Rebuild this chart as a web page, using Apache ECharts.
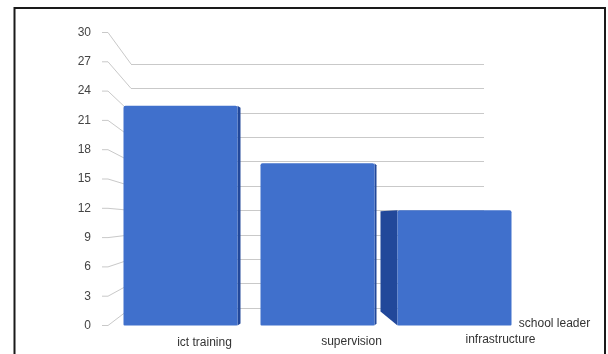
<!DOCTYPE html>
<html>
<head>
<meta charset="utf-8">
<script src="https://cdn.jsdelivr.net/npm/echarts@6/dist/echarts.min.js"></script>
<style>
  html, body { margin: 0; padding: 0; background: #ffffff; overflow: hidden; }
  /* the floor runs a little past the right edge of the window */
  #chart { width: 660px; height: 354px; }
</style>
</head>
<body>
<div id="chart"></div>
<script>
// Chart data
const categories = ['ict training', 'supervision', 'infrastructure', 'school leader'];
const values = [22.5, 16.6, 11.8, 0];
const tickValues = [0, 3, 6, 9, 12, 15, 18, 21, 24, 27, 30];

// Side faces of the bars: +n draws a strip on the right, -n a face on the left
const sideDepth = [3, 2, -17, 0];
// Category label nudges (dx, dy) to follow the tilted floor
const labelShift = [[24, 17], [34, 16], [46, 14], [-37, -2]];

const BAR_W = 114;
const FRONT = '#4070cc';
const SIDE = '#22489a';

const chart = echarts.init(document.getElementById('chart'), null, { renderer: 'canvas' });

const option = {
  backgroundColor: '#ffffff',
  animation: false,
  grid: [
    // front plane: tick labels and bars
    { left: 112, width: 548, top: 32.5, height: 293 },
    // back wall: gridlines
    { left: 131, width: 353, top: 64, height: 244 }
  ],
  xAxis: [
    {
      type: 'category', gridIndex: 0, data: categories,
      axisLine: { show: false }, axisTick: { show: false }, axisLabel: { show: false }
    },
    {
      type: 'value', gridIndex: 1, show: false, min: 0, max: 1
    }
  ],
  yAxis: [
    {
      type: 'value', gridIndex: 0, min: 0, max: 30, interval: 3,
      axisLine: { show: false }, axisTick: { show: false }, splitLine: { show: false },
      axisLabel: { margin: 21, color: '#444', fontSize: 12, fontFamily: 'Liberation Sans, Arial, sans-serif' }
    },
    {
      type: 'value', gridIndex: 1, min: 0, max: 30, interval: 3,
      axisLine: { show: false }, axisTick: { show: false }, axisLabel: { show: false },
      splitLine: { show: true, lineStyle: { color: '#c9c9c9', width: 1 } }
    }
  ],
  series: [
    {
      type: 'custom',
      xAxisIndex: 0, yAxisIndex: 0,
      z: 2,
      data: values.map((v, i) => [i, v]),
      renderItem: function (params, api) {
        const i = api.value(0);
        const v = api.value(1);
        const d = sideDepth[i];
        if (!v || !d) return null;
        const top = api.coord([i, v]);
        const base = api.coord([i, 0]);
        const edgeX = d > 0 ? top[0] + BAR_W / 2 : top[0] - BAR_W / 2;
        const rise = d > 0 ? 2 : 14;
        const pts = [
          [edgeX, top[1]],
          [edgeX + d, top[1] + (d > 0 ? 2 : 1)],
          [edgeX + d, base[1] - rise],
          [edgeX, base[1]]
        ];
        return {
          type: 'polygon',
          shape: { points: pts },
          style: { fill: SIDE }
        };
      }
    },
    {
      type: 'bar',
      xAxisIndex: 0, yAxisIndex: 0,
      z: 3,
      barWidth: BAR_W,
      data: values,
      itemStyle: { color: FRONT, borderRadius: [2, 2, 1, 1] }
    }
  ]
};

chart.setOption(option);

// Connectors from each tick label to its gridline on the back wall,
// and category labels placed along the floor edge.
const gfx = [];
const frontLeft = 112;
const backLeft = 131;
tickValues.forEach(function (v) {
  const fy = chart.convertToPixel({ yAxisIndex: 0 }, v);
  const by = chart.convertToPixel({ yAxisIndex: 1 }, v);
  gfx.push({
    type: 'polyline',
    z: 0,
    shape: { points: [[frontLeft - 10, fy], [frontLeft - 4, fy], [backLeft, by]] },
    style: { stroke: '#c9c9c9', lineWidth: 1, fill: null }
  });
});
categories.forEach(function (c, i) {
  const x = chart.convertToPixel({ xAxisIndex: 0 }, c);
  const y0 = chart.convertToPixel({ yAxisIndex: 0 }, 0);
  gfx.push({
    type: 'text',
    z: 10,
    x: x + labelShift[i][0],
    y: y0 + labelShift[i][1],
    style: {
      text: c,
      fill: '#333',
      font: '12px "Liberation Sans", Arial, sans-serif',
      textAlign: 'center',
      textVerticalAlign: 'middle'
    }
  });
});
// Frame around the chart
gfx.push({
  type: 'rect',
  z: 20,
  shape: { x: 14.5, y: 8, width: 590.5, height: 360 },
  style: { stroke: '#1a1a1a', lineWidth: 2, fill: null }
});

chart.setOption({ graphic: gfx });
</script>
</body>
</html>
